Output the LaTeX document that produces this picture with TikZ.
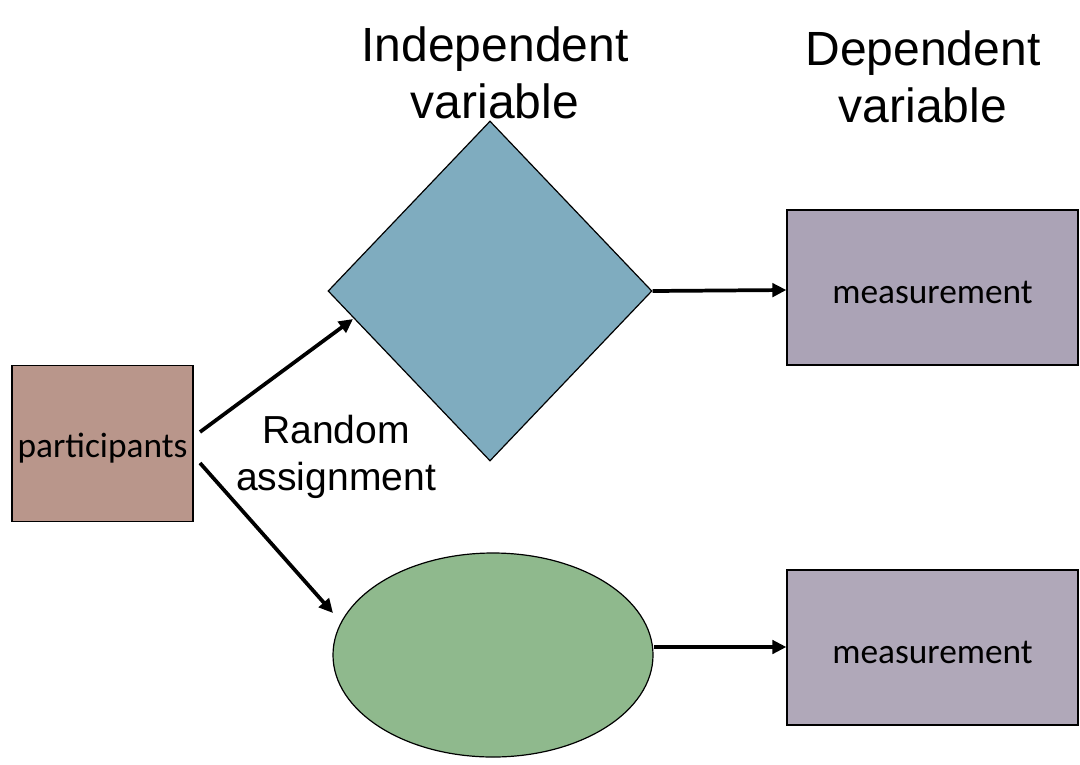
\documentclass[tikz,border=0pt]{standalone}
\usepackage{fontspec}
\setmainfont{Liberation Sans}
\newfontfamily\calfont{Carlito}
\usetikzlibrary{shapes.geometric,arrows.meta}
\definecolor{partc}{HTML}{B9968B}
\definecolor{diac}{HTML}{7FACBF}
\definecolor{ellc}{HTML}{8FB98D}
\definecolor{measc}{HTML}{ABA3B6}
\definecolor{measd}{HTML}{B0A8B9}
\tikzset{
  box/.style={draw=black, line width=0.9pt, inner sep=0pt},
  boxlabel/.style={font=\calfont\fontsize{26.5}{30}\selectfont},
  heading/.style={align=center, font=\fontsize{36}{43}\selectfont},
  conn/.style={line width=2.8pt, -{Triangle[length=10.5pt,width=10pt]}},
}
\begin{document}
\begin{tikzpicture}[x=0.75pt,y=-0.75pt]
\useasboundingbox (0,0) rectangle (1080,764);
\node[box, fill=partc, minimum width=135.75pt, minimum height=117pt] (part) at (102.5,443.5) {};
\node[boxlabel] (partl) at (102.5,448) {participants};
\node[box, diamond, fill=diac, minimum width=243pt, minimum height=255pt] (dia) at (490,291) {};
\node[box, ellipse, fill=ellc, minimum width=240pt, minimum height=153pt] (ell) at (493,655) {};
\node[box, fill=measc, minimum width=218.25pt, minimum height=116.25pt] (m1) at (932.5,287.5) {};
\node[boxlabel] (m1l) at (932.5,292) {measurement};
\node[box, fill=measd, minimum width=218.25pt, minimum height=116.25pt] (m2) at (932.5,647.5) {};
\node[boxlabel] (m2l) at (932.5,652) {measurement};
\node[heading] (iv) at (495,73) {Independent\\variable};
\node[heading] (dv) at (923,77) {Dependent\\variable};
\node[align=center, font=\fontsize{29.3}{35}\selectfont] (ra) at (336,457) {Random\\assignment};
\coordinate (p1) at (200,432);
\coordinate (p2) at (200,463);
\coordinate (d1) at (353,319);
\coordinate (e1) at (333,613);
\draw[conn] (p1) -- (d1);
\draw[conn] (p2) -- (e1);
\draw[conn] (dia.east) -- (m1.west |- 0,290);
\draw[conn] (ell.east) ++(0,-8) coordinate (e2) -- (m2.west |- e2);
\end{tikzpicture}
\end{document}
